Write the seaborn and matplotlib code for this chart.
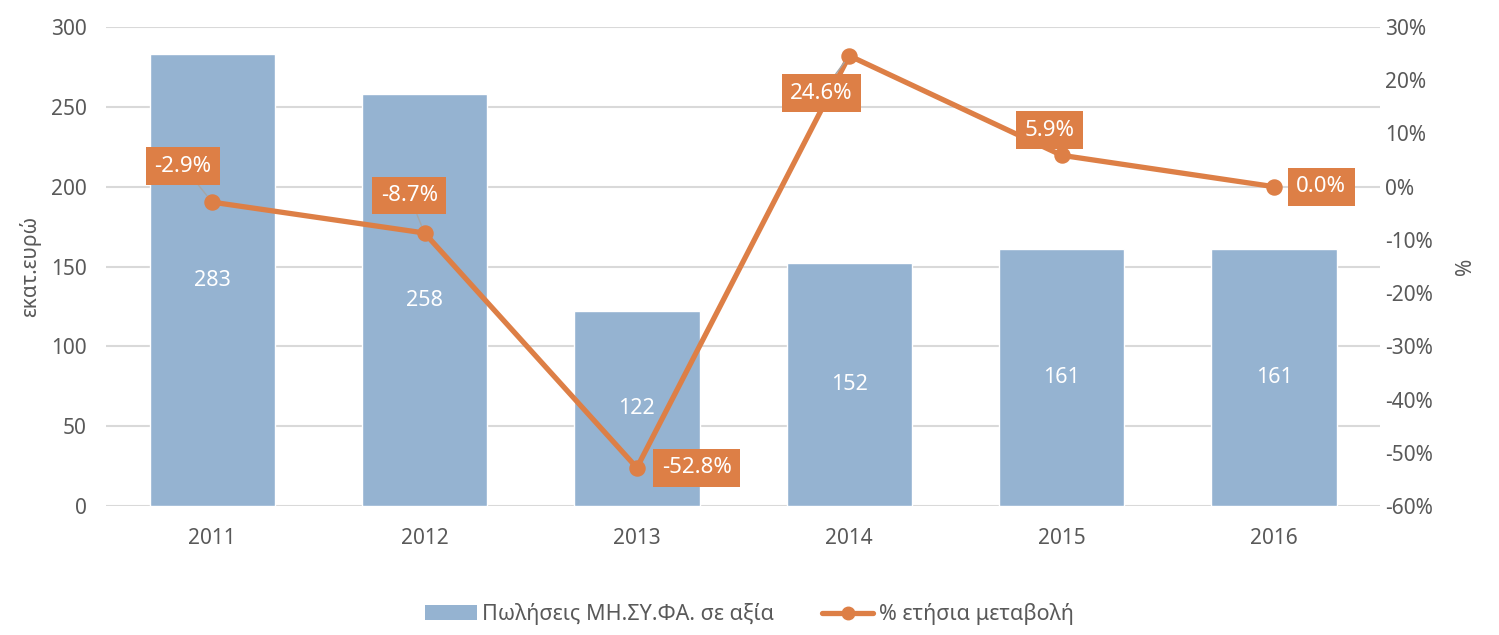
import matplotlib.pyplot as plt
import matplotlib.ticker as mticker
from matplotlib.patches import Patch
from matplotlib.lines import Line2D
import seaborn as sns
import pandas as pd

years = ["2011", "2012", "2013", "2014", "2015", "2016"]
sales = [283, 258, 122, 152, 161, 161]
pct_change = [-2.9, -8.7, -52.8, 24.6, 5.9, 0.0]

bar_label_name = "Πωλήσεις ΜΗ.ΣΥ.ΦΑ. σε αξία"
line_label_name = "% ετήσια μεταβολή"

# label offsets (points) for the % boxes, and whether a leader line is drawn
label_offsets = [(-21, 26), (-11, 27), (43, 0), (-20, -27), (-9, 18), (34, 0)]
leaders = [True, True, False, True, False, False]

bar_color = "#95B3D1"
line_color = "#DD7F46"
text_color = "#595959"
grid_color = "#D9D9D9"

sns.set_style("white")
plt.rcParams['font.family'] = ['Noto Sans', 'DejaVu Sans']

df = pd.DataFrame({"year": years, "sales": sales, "pct": pct_change})

fig = plt.figure(figsize=(14.99, 6.35), dpi=100)
ax = fig.add_axes([0.0707, 0.203, 0.850, 0.7545])

sns.barplot(data=df, x="year", y="sales", color=bar_color, saturation=1,
            width=0.59, ax=ax, zorder=2)
ax.bar_label(ax.containers[0], label_type="center", color="white", fontsize=15.5)

ax.set_ylim(0, 300)
ax.set_yticks(range(0, 301, 50))
ax.yaxis.grid(True, color=grid_color, linewidth=1.5, zorder=0)
ax.set_axisbelow(True)
ax.set_xlabel("")
ax.set_ylabel("εκατ.ευρώ", fontsize=15, color=text_color, labelpad=7)
ax.tick_params(axis="both", length=0, labelsize=15, labelcolor=text_color)
ax.tick_params(axis="x", pad=16)
ax.tick_params(axis="y", pad=14)
for s in ax.spines.values():
    s.set_visible(False)

ax2 = ax.twinx()
sns.pointplot(data=df, x="year", y="pct", color=line_color, ax=ax2,
              markers="o", markersize=9, linewidth=3.8, errorbar=None)
ax2.set_ylim(-60, 30)
ax2.set_yticks(range(-60, 31, 10))
ax2.yaxis.set_major_formatter(mticker.FuncFormatter(lambda v, p: f"{v:.0f}%"))
ax2.set_ylabel("%", fontsize=15, color=text_color, labelpad=16)
ax2.set_xlabel("")
ax2.tick_params(axis="both", length=0, labelsize=15, labelcolor=text_color)
ax2.grid(False)
for s in ax2.spines.values():
    s.set_visible(False)
ax2.set_xlim(ax.get_xlim())

for i, v in enumerate(pct_change):
    arrow = dict(arrowstyle="-", color="#A6A6A6", lw=1, shrinkA=0, shrinkB=6) if leaders[i] else None
    ax2.annotate(f"{v:.1f}%", xy=(i, v), xytext=label_offsets[i],
                 textcoords="offset points", ha="center", va="center",
                 color="white", fontsize=16,
                 bbox=dict(boxstyle="square,pad=0.38", fc=line_color, ec="none"),
                 arrowprops=arrow, zorder=5)

handles = [
    Patch(facecolor=bar_color, edgecolor="none", label=bar_label_name),
    Line2D([0], [0], color=line_color, lw=3.8, marker="o", markersize=9, label=line_label_name),
]
fig.legend(handles=handles, loc="center", bbox_to_anchor=(0.5, 0.033), ncol=2,
           frameon=False, fontsize=15.5, labelcolor=text_color, columnspacing=2.2,
           handlelength=2.4, handletextpad=0.25)

fig.savefig("out.png", dpi=100)
